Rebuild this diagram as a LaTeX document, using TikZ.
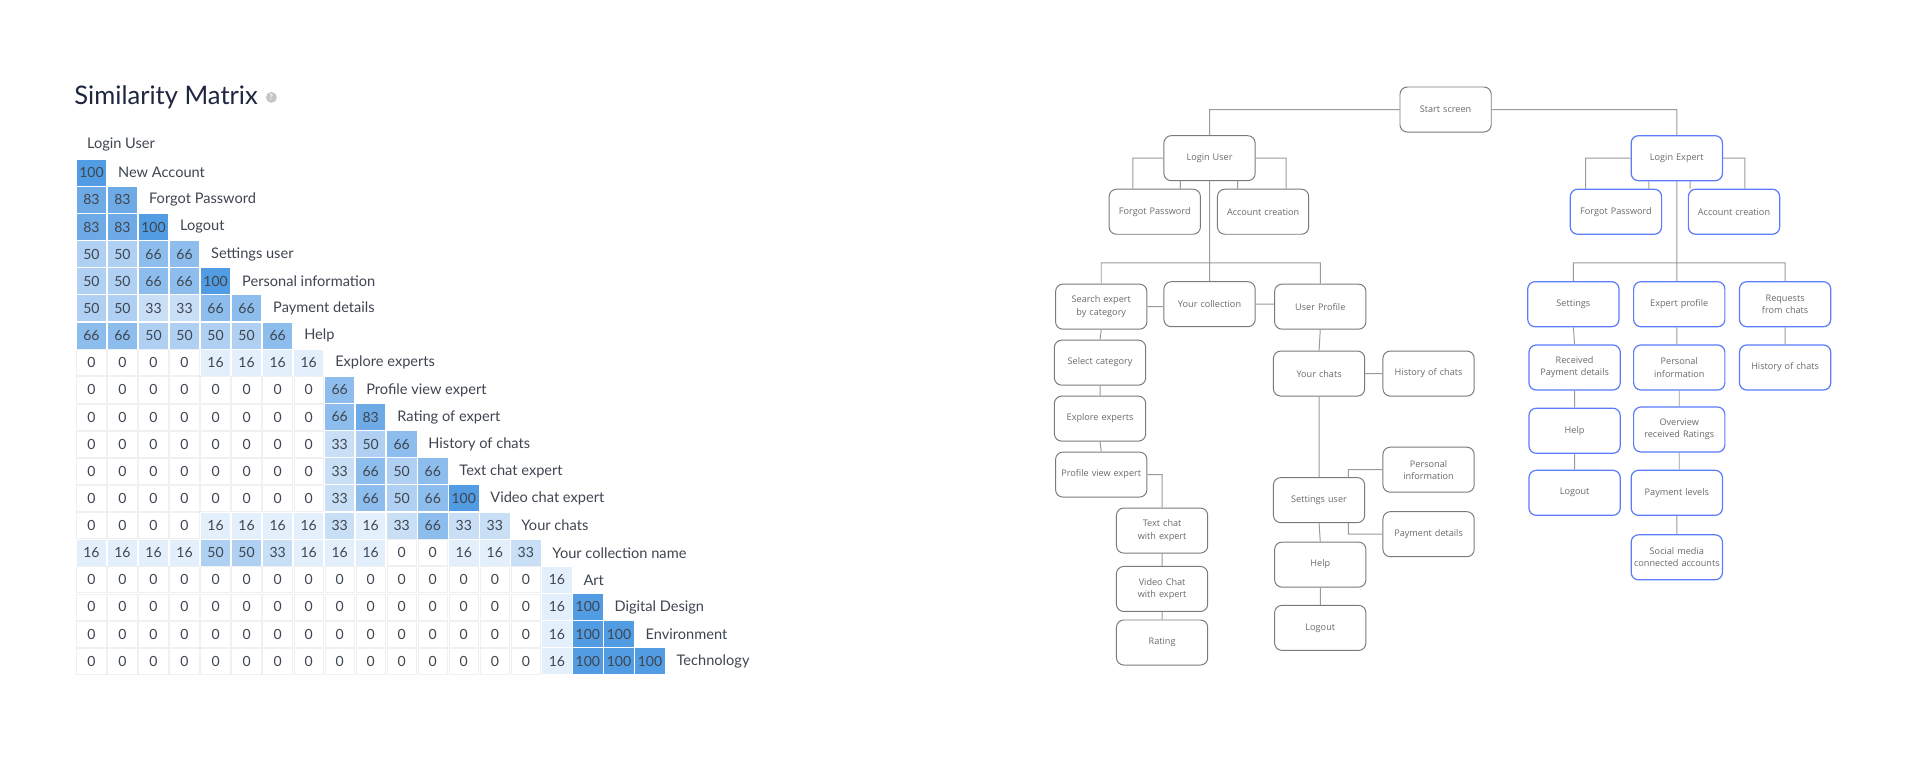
\documentclass[tikz,border=0pt]{standalone}
\usepackage{fontspec}
\setmainfont{Lato}
\newfontfamily\treefont{Open Sans}
\newcommand{\nohyph}{\hyphenpenalty=10000\relax\exhyphenpenalty=10000\relax}
\definecolor{c0}{HTML}{FFFFFF}
\definecolor{c16}{HTML}{E3EFFB}
\definecolor{c33}{HTML}{C8DFF6}
\definecolor{c50}{HTML}{AFD0F2}
\definecolor{c66}{HTML}{8DBDEC}
\definecolor{c83}{HTML}{6DAAE6}
\definecolor{c100}{HTML}{529CE3}
\definecolor{txt}{HTML}{3F4650}
\definecolor{ttl}{HTML}{1E2640}
\definecolor{tline}{HTML}{9A9A9A}
\definecolor{tbord}{HTML}{7A7A7A}
\definecolor{bbord}{HTML}{5C7CFA}
\definecolor{ttext}{HTML}{6A6A6A}
\tikzset{
  cellnum/.style={font=\fontsize{11.5}{13}\selectfont, text=txt},
  rowlab/.style={anchor=west, font=\fontsize{12}{14}\selectfont, text=txt},
  tbox/.style={draw=tbord, line width=0.8pt, rounded corners=6pt, minimum width=75pt, minimum height=37pt, text width=72pt, align=center, inner sep=1pt, font=\treefont\fontsize{7.5}{10}\selectfont\nohyph, text=ttext, fill=white},
  bbox/.style={tbox, draw=bbord, line width=1pt},
  conn/.style={draw=tline, line width=0.8pt}
}
\begin{document}
\begin{tikzpicture}[x=1pt,y=-1pt]
\useasboundingbox[fill=white] (0,0) rectangle (1568,643.5);
% title
\node[anchor=base west, inner sep=0, font=\fontsize{21}{24}\selectfont, text=ttl] (title) at (61,86) {Similarity Matrix};
\node[circle, fill=gray!45, inner sep=0, minimum size=9pt, font=\bfseries\fontsize{6}{6}\selectfont, text=white] (help) at (223,80) {?};
\node[rowlab] (r0) at (68,119) {Login User};
% matrix
\foreach \lab/\n/\vals [count=\r] in {
 {New Account}/1/{100},
 {Forgot Password}/2/{83,83},
 {Logout}/3/{83,83,100},
 {Settings user}/4/{50,50,66,66},
 {Personal information}/5/{50,50,66,66,100},
 {Payment details}/6/{50,50,33,33,66,66},
 {Help}/7/{66,66,50,50,50,50,66},
 {Explore experts}/8/{0,0,0,0,16,16,16,16},
 {Profile view expert}/9/{0,0,0,0,0,0,0,0,66},
 {Rating of expert}/10/{0,0,0,0,0,0,0,0,66,83},
 {History of chats}/11/{0,0,0,0,0,0,0,0,33,50,66},
 {Text chat expert}/12/{0,0,0,0,0,0,0,0,33,66,50,66},
 {Video chat expert}/13/{0,0,0,0,0,0,0,0,33,66,50,66,100},
 {Your chats}/14/{0,0,0,0,16,16,16,16,33,16,33,66,33,33},
 {Your collection name}/15/{16,16,16,16,50,50,33,16,16,16,0,0,16,16,33},
 {Art}/16/{0,0,0,0,0,0,0,0,0,0,0,0,0,0,0,16},
 {Digital Design}/17/{0,0,0,0,0,0,0,0,0,0,0,0,0,0,0,16,100},
 {Environment}/18/{0,0,0,0,0,0,0,0,0,0,0,0,0,0,0,16,100,100},
 {Technology}/19/{0,0,0,0,0,0,0,0,0,0,0,0,0,0,0,16,100,100,100}}{
  \pgfmathsetmacro{\yc}{142+22.3*(\r-1)}
  \foreach \v [count=\c] in \vals {
    \pgfmathsetmacro{\xl}{63+25.5*(\c-1)}
    \fill[c\v] (\xl,\yc-10.7) rectangle ++(24.3,21.4);
    \ifnum\v=0 \draw[draw=black!6, line width=0.6pt] (\xl,\yc-10.7) rectangle ++(24.3,21.4);\fi
    \node[cellnum] (m-\r-\c) at (\xl+12.15,\yc) {\v};
  }
  \node[rowlab] (l-\r) at ({63+25.5*\n+5},\yc) {\lab};
}
% ---------- tree ----------
\node[tbox] (ss) at (1188,90) {Start screen};
\node[tbox] (lu) at (994,130) {Login User};
\node[tbox] (fp1) at (949,174) {Forgot Password};
\node[tbox] (ac1) at (1038,174) {Account creation};
\node[tbox] (se) at (905,252) {Search expert by category};
\node[tbox] (yc) at (994,250) {Your collection};
\node[tbox] (up) at (1085,252) {User Profile};
\node[tbox] (sel) at (904,298) {Select category};
\node[tbox] (ex) at (904,344) {Explore experts};
\node[tbox] (pv) at (905,390) {Profile view expert};
\node[tbox] (tc) at (955,436) {Text chat with expert};
\node[tbox] (vc) at (955,484) {Video Chat with expert};
\node[tbox] (rt) at (955,528) {Rating};
\node[tbox] (ych) at (1084,307) {Your chats};
\node[tbox] (hc) at (1174,307) {History of chats};
\node[tbox] (su) at (1084,411) {Settings user};
\node[tbox] (pi) at (1174,386) {Personal information};
\node[tbox] (pd) at (1174,439) {Payment details};
\node[tbox] (hp) at (1085,464) {Help};
\node[tbox] (lo) at (1085,516) {Logout};
\node[bbox] (le) at (1378,130) {Login Expert};
\node[bbox] (fp2) at (1328,174) {Forgot Password};
\node[bbox] (ac2) at (1425,174) {Account creation};
\node[bbox] (st) at (1293,250) {Settings};
\node[bbox] (ep) at (1380,250) {Expert profile};
\node[bbox] (rq) at (1467,250) {Requests from chats};
\node[bbox] (rp) at (1294,302) {Received Payment details};
\node[bbox] (hp2) at (1294,354) {Help};
\node[bbox] (lo2) at (1294,405) {Logout};
\node[bbox] (pi2) at (1380,302) {Personal information};
\node[bbox] (ov) at (1380,353) {Overview received Ratings};
\node[bbox] (pl) at (1378,405) {Payment levels};
\node[bbox] (sm) at (1378,458) {Social media connected accounts};
\node[bbox] (hc2) at (1467,302) {History of chats};
\coordinate (b1) at (994,216);
\coordinate (b2) at (1378,216);
\path[conn]
 (ss.west) -| (lu.north)
 (ss.east) -| (le.north)
 (lu.west) -| ([xshift=-18]fp1.north)
 ([xshift=-24]lu.south) -- ([xshift=-24]lu.south |- fp1.north)
 (lu.east) -| ([xshift=19]ac1.north)
 ([xshift=23]lu.south) -- ([xshift=23]lu.south |- ac1.north)
 (lu.south) -- (yc.north)
 (se.north) |- (b1) -| (up.north)
 (se.east) -- (se.east -| yc.west)
 (yc.east) -- (yc.east -| up.west)
 (se.south) -- (sel.north)
 (sel.south) -- (ex.north)
 (ex.south) -- (pv.north)
 (pv.east) -| (tc.north)
 (tc.south) -- (vc.north)
 (vc.south) -- (rt.north)
 (up.south) -- (ych.north)
 (ych.east) -- (hc.west)
 (ych.south) -- (su.north)
 ([xshift=24]su.north) |- (pi.west)
 ([xshift=24]su.south) |- (pd.west)
 (su.south) -- (hp.north)
 (hp.south) -- (lo.north)
 (le.west) -| ([xshift=-25]fp2.north)
 ([xshift=-23]le.south) -- ([xshift=-23]le.south |- fp2.north)
 (le.east) -| ([xshift=9]ac2.north)
 ([xshift=11]le.south) -- ([xshift=11]le.south |- ac2.north)
 (le.south) -- (b2)
 (st.north) |- (b2) -| (rq.north)
 (b2) -- (b2 |- ep.north)
 (st.south) -- (rp.north)
 (rp.south) -- (hp2.north)
 (hp2.south) -- (lo2.north)
 (ep.south -| b2) -- (b2 |- pi2.north)
 (pi2.south) -- (ov.north)
 (ov.south) -- (ov.south |- pl.north)
 (pl.south) -- (sm.north)
 (rq.south) -- (hc2.north);
\end{tikzpicture}
\end{document}
